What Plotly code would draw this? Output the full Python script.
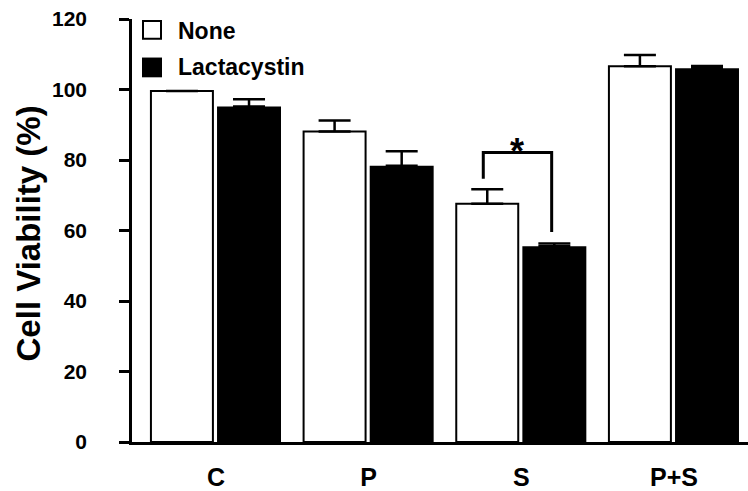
import plotly.graph_objects as go

categories = ["C", "P", "S", "P+S"]
none_vals = [99.6, 88.1, 67.6, 106.6]
none_err = [0.0, 3.1, 4.1, 3.2]
lact_vals = [95.2, 78.4, 55.5, 106.0]
lact_err = [2.0, 4.1, 0.8, 0.7]
series_names = ["None", "Lactacystin"]
y_ticks = [0, 20, 40, 60, 80, 100, 120]
y_title = "Cell Viability (%)"
sig_label = "*"

FONT = "Arial, Liberation Sans, sans-serif"
W, H = 748, 491
L, R, T, B = 132, 0, 19, 44
pw, ph = W - L - R, H - T - B

def px(x):
    return (x - L) / pw

def py(y):
    return (H - B - y) / ph

xpos = list(range(len(categories)))

fig = go.Figure()
fig.add_trace(go.Bar(
    x=xpos, y=none_vals, name=series_names[0],
    offset=-0.426, width=0.406,
    marker=dict(color="white", line=dict(color="black", width=2)),
    error_y=dict(type="data", symmetric=False, array=none_err,
                 arrayminus=[0] * len(none_err), color="black",
                 thickness=2.5, width=16),
    showlegend=False,
))
fig.add_trace(go.Bar(
    x=xpos, y=lact_vals, name=series_names[1],
    offset=0.007, width=0.419,
    marker=dict(color="black", line=dict(color="black", width=0)),
    error_y=dict(type="data", symmetric=False, array=lact_err,
                 arrayminus=[0] * len(lact_err), color="black",
                 thickness=2.5, width=16),
    showlegend=False,
))

# significance bracket between S bars
fig.add_shape(type="path", xref="x", yref="y",
              path="M 1.751 74.7 L 1.751 82.1 L 2.199 82.1 L 2.199 59.6",
              line=dict(color="black", width=3))
fig.add_annotation(x=1.97, y=82.1, xref="x", yref="y", text=sig_label,
                   showarrow=False, yanchor="bottom", yshift=-21,
                   font=dict(family=FONT, size=36, color="black", weight="bold"))

# manual legend
fig.add_shape(type="rect", xref="paper", yref="paper",
              x0=px(143), x1=px(161), y0=py(39), y1=py(21),
              line=dict(color="black", width=2), fillcolor="white")
fig.add_shape(type="rect", xref="paper", yref="paper",
              x0=px(142), x1=px(162), y0=py(78), y1=py(58),
              line=dict(color="black", width=0), fillcolor="black")
for name, yc in zip(series_names, [31, 68]):
    fig.add_annotation(x=px(176), y=py(yc), xref="paper", yref="paper",
                       text=name, showarrow=False, xanchor="left", yanchor="middle",
                       font=dict(family=FONT, size=23, color="black", weight="bold"))

# y title
fig.add_annotation(x=px(28), y=py(236), xref="paper", yref="paper", text=y_title,
                   textangle=-90, showarrow=False, xanchor="center", yanchor="middle",
                   font=dict(family=FONT, size=33, color="black", weight="bold"))

fig.update_layout(
    width=W, height=H,
    margin=dict(l=L, r=R, t=T, b=B, pad=0),
    paper_bgcolor="white", plot_bgcolor="white",
    barmode="overlay", showlegend=False,
    font=dict(family=FONT, color="black"),
)
fig.update_xaxes(
    range=[-0.550, 3.485], tickvals=xpos, ticktext=categories,
    showgrid=False, zeroline=False, showline=True, linecolor="black", linewidth=2.5,
    ticks="", ticklabelstandoff=11,
    tickfont=dict(family=FONT, size=25, color="black", weight="bold"),
)
fig.update_yaxes(
    range=[0, 120], tickvals=y_ticks,
    showgrid=False, zeroline=False, showline=True, linecolor="black", linewidth=2.5,
    ticks="outside", ticklen=10, tickwidth=2.5, tickcolor="black",
    ticklabelstandoff=28,
    tickfont=dict(family=FONT, size=21, color="black", weight="bold"),
)

fig.write_html("out.html")
